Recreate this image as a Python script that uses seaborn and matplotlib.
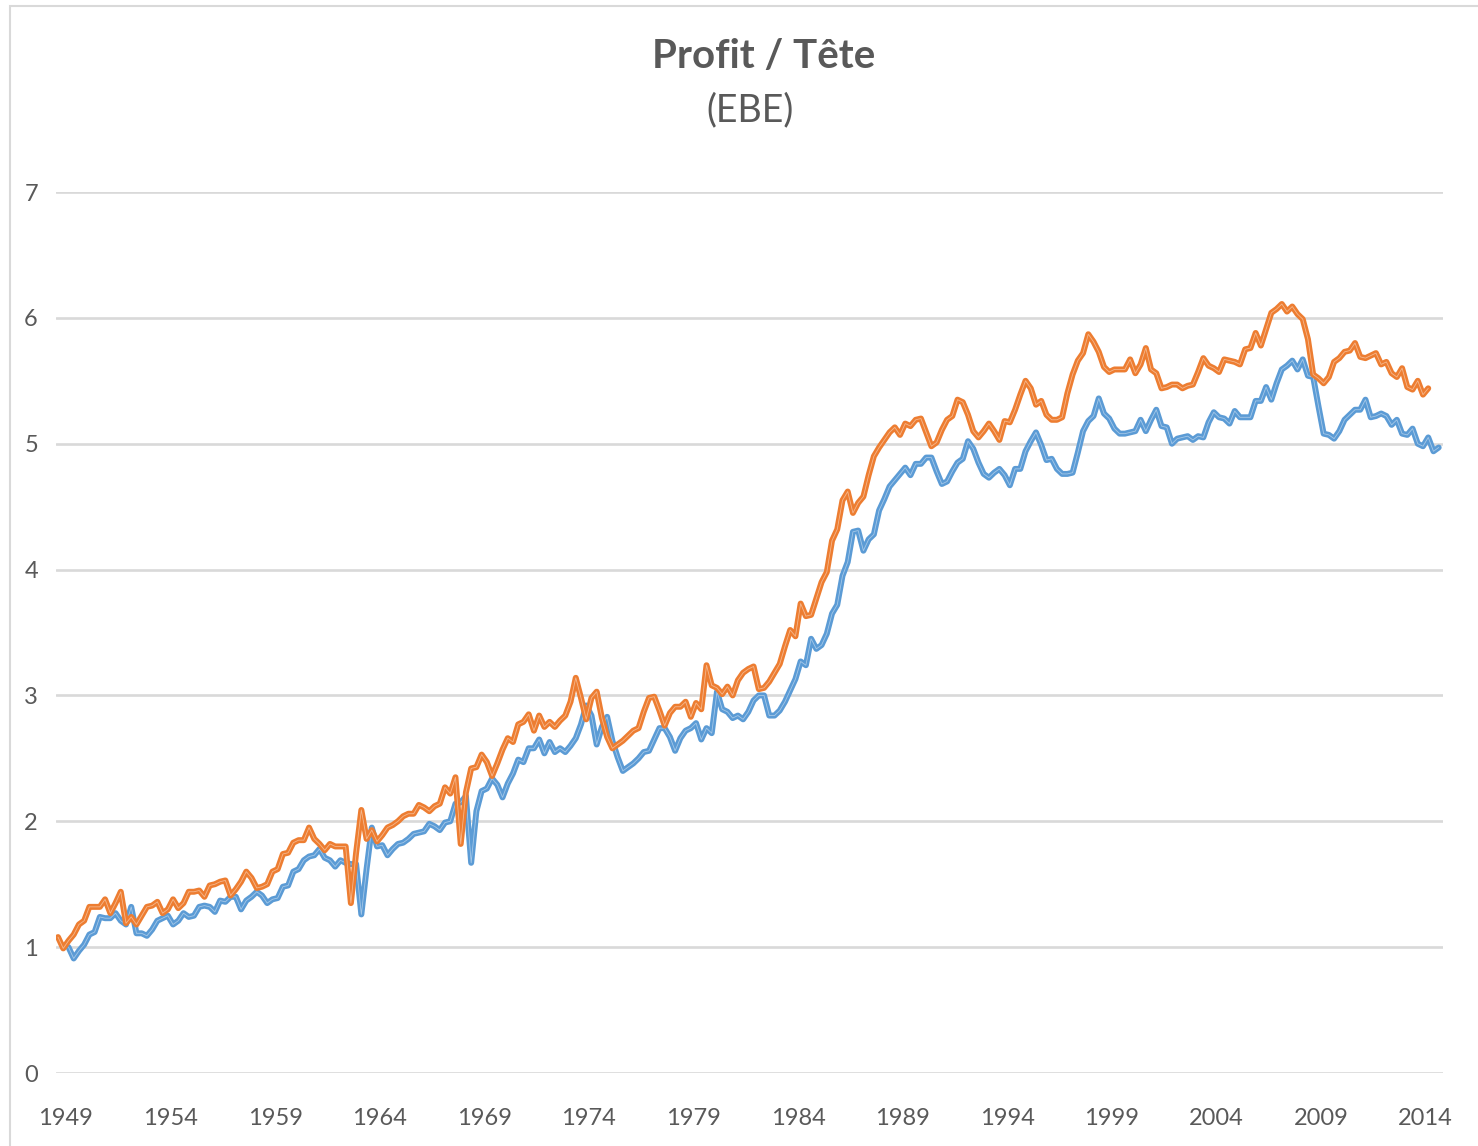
import numpy as np
import matplotlib
matplotlib.use("Agg")
import matplotlib.pyplot as plt
from matplotlib.patches import Rectangle
import seaborn as sns


# Quarterly series; the blue one starts two quarters after the orange one
ORANGE_START = 1949.0
BLUE_START = 1949.5

ORANGE_VALUES = [
    1.08, 0.99, 1.05, 1.10, 1.18, 1.21, 1.32, 1.32, 1.32, 1.38,
    1.27, 1.35, 1.44, 1.19, 1.24, 1.18, 1.25, 1.32, 1.33, 1.36,
    1.27, 1.30, 1.38, 1.31, 1.35, 1.44, 1.44, 1.45, 1.40, 1.49,
    1.50, 1.52, 1.53, 1.41, 1.46, 1.52, 1.60, 1.55, 1.47, 1.48,
    1.50, 1.60, 1.62, 1.74, 1.75, 1.83, 1.85, 1.85, 1.95, 1.86,
    1.82, 1.77, 1.82, 1.80, 1.80, 1.80, 1.35, 1.75, 2.09, 1.86,
    1.93, 1.84, 1.89, 1.95, 1.97, 2.00, 2.04, 2.06, 2.06, 2.13,
    2.11, 2.08, 2.12, 2.14, 2.27, 2.22, 2.35, 1.82, 2.23, 2.42,
    2.43, 2.53, 2.47, 2.36, 2.46, 2.57, 2.66, 2.63, 2.77, 2.79,
    2.85, 2.72, 2.84, 2.75, 2.79, 2.75, 2.80, 2.84, 2.95, 3.14,
    2.98, 2.81, 2.98, 3.03, 2.82, 2.67, 2.58, 2.61, 2.64, 2.68,
    2.72, 2.74, 2.87, 2.98, 2.99, 2.88, 2.76, 2.86, 2.91, 2.91,
    2.95, 2.83, 2.94, 2.89, 3.24, 3.08, 3.06, 3.01, 3.07, 3.00,
    3.12, 3.18, 3.21, 3.23, 3.05, 3.06, 3.11, 3.18, 3.25, 3.39,
    3.52, 3.47, 3.73, 3.63, 3.64, 3.77, 3.90, 3.98, 4.23, 4.32,
    4.55, 4.62, 4.45, 4.53, 4.58, 4.75, 4.90, 4.97, 5.03, 5.09,
    5.13, 5.07, 5.16, 5.14, 5.19, 5.20, 5.09, 4.98, 5.01, 5.11,
    5.19, 5.22, 5.35, 5.33, 5.23, 5.10, 5.05, 5.10, 5.16, 5.10,
    5.03, 5.18, 5.17, 5.27, 5.39, 5.50, 5.44, 5.31, 5.34, 5.23,
    5.19, 5.19, 5.21, 5.40, 5.55, 5.66, 5.72, 5.87, 5.81, 5.73,
    5.61, 5.57, 5.59, 5.59, 5.59, 5.67, 5.56, 5.63, 5.76, 5.59,
    5.56, 5.44, 5.45, 5.47, 5.47, 5.44, 5.46, 5.47, 5.57, 5.68,
    5.62, 5.60, 5.57, 5.67, 5.66, 5.65, 5.63, 5.75, 5.76, 5.88,
    5.78, 5.91, 6.04, 6.07, 6.11, 6.05, 6.09, 6.03, 5.99, 5.83,
    5.55, 5.52, 5.48, 5.53, 5.65, 5.68, 5.73, 5.74, 5.80, 5.69,
    5.68, 5.70, 5.72, 5.63, 5.65, 5.56, 5.53, 5.60, 5.45, 5.43,
    5.50, 5.39, 5.44,
]

BLUE_VALUES = [
    1.00, 0.91, 0.97, 1.02, 1.10, 1.12, 1.24, 1.23, 1.23, 1.27,
    1.21, 1.18, 1.32, 1.11, 1.11, 1.09, 1.14, 1.21, 1.23, 1.25,
    1.18, 1.21, 1.27, 1.24, 1.25, 1.32, 1.33, 1.32, 1.28, 1.37,
    1.36, 1.40, 1.40, 1.30, 1.37, 1.40, 1.44, 1.41, 1.35, 1.38,
    1.39, 1.48, 1.49, 1.60, 1.62, 1.69, 1.72, 1.73, 1.78, 1.71,
    1.69, 1.64, 1.69, 1.67, 1.66, 1.66, 1.26, 1.62, 1.95, 1.80,
    1.81, 1.73, 1.78, 1.82, 1.83, 1.86, 1.90, 1.91, 1.92, 1.98,
    1.96, 1.93, 1.99, 2.00, 2.14, 2.15, 2.20, 1.67, 2.08, 2.24,
    2.26, 2.34, 2.29, 2.19, 2.30, 2.38, 2.49, 2.47, 2.58, 2.58,
    2.65, 2.54, 2.63, 2.55, 2.58, 2.55, 2.60, 2.66, 2.77, 2.92,
    2.84, 2.61, 2.75, 2.83, 2.64, 2.51, 2.40, 2.43, 2.46, 2.50,
    2.55, 2.56, 2.65, 2.74, 2.74, 2.67, 2.56, 2.66, 2.72, 2.74,
    2.78, 2.65, 2.74, 2.70, 3.03, 2.89, 2.87, 2.82, 2.84, 2.81,
    2.87, 2.96, 3.00, 3.00, 2.84, 2.84, 2.88, 2.95, 3.04, 3.13,
    3.27, 3.24, 3.45, 3.37, 3.40, 3.49, 3.65, 3.72, 3.95, 4.06,
    4.30, 4.31, 4.15, 4.24, 4.28, 4.47, 4.56, 4.66, 4.71, 4.76,
    4.81, 4.75, 4.84, 4.84, 4.89, 4.89, 4.78, 4.68, 4.70, 4.78,
    4.85, 4.88, 5.02, 4.96, 4.85, 4.76, 4.73, 4.77, 4.80, 4.75,
    4.67, 4.80, 4.80, 4.94, 5.02, 5.09, 4.99, 4.87, 4.88, 4.80,
    4.76, 4.76, 4.77, 4.93, 5.10, 5.18, 5.22, 5.36, 5.24, 5.20,
    5.12, 5.08, 5.08, 5.09, 5.10, 5.19, 5.10, 5.19, 5.27, 5.14,
    5.13, 5.00, 5.04, 5.05, 5.06, 5.03, 5.06, 5.05, 5.17, 5.25,
    5.21, 5.20, 5.16, 5.26, 5.21, 5.21, 5.21, 5.34, 5.34, 5.45,
    5.35, 5.48, 5.59, 5.62, 5.66, 5.59, 5.67, 5.54, 5.53, 5.30,
    5.08, 5.07, 5.04, 5.10, 5.19, 5.23, 5.27, 5.27, 5.35, 5.21,
    5.22, 5.24, 5.22, 5.15, 5.19, 5.08, 5.07, 5.12, 5.00, 4.98,
    5.05, 4.94, 4.97,
]

YEAR_LABELS = list(range(1949, 2015, 5))
Y_TICKS = [0, 1, 2, 3, 4, 5, 6, 7]

TITLE = "Profit / Tête"
SUBTITLE = "(EBE)"

ORANGE = "#ED7D31"
BLUE = "#5B9BD5"
GREY_TEXT = "#595959"
GRID = "#D9D9D9"

W, H = 1478, 1146


def quarters(start, n):
    return start + np.arange(n) / 4.0


def draw_series(ax, x, y, color):
    sns.lineplot(x=x, y=y, color=color, linewidth=4.3, ax=ax,
                 solid_joinstyle="round", solid_capstyle="round")
    ax.plot(x, y, color="white", linewidth=0.6, alpha=0.45)


def main():
    sns.set_theme(style="white")
    plt.rcParams["font.family"] = ["Lato", "DejaVu Sans"]

    fig = plt.figure(figsize=(W / 100, H / 100), dpi=100)
    ax = fig.add_axes([56 / W, 1 - 1073 / H, (1443 - 56) / W, (1073 - 192) / H])

    ax.yaxis.grid(True, color=GRID, linewidth=1.9)
    ax.xaxis.grid(False)
    ax.set_axisbelow(True)

    draw_series(ax, quarters(BLUE_START, len(BLUE_VALUES)), BLUE_VALUES, BLUE)
    draw_series(ax, quarters(ORANGE_START, len(ORANGE_VALUES)), ORANGE_VALUES, ORANGE)

    ax.set_ylim(0, 7)
    ax.set_xlim(1948.904, 2015.206)
    ax.set_yticks(Y_TICKS)
    ax.set_yticklabels([str(v) for v in Y_TICKS])
    ax.set_xticks([y + 0.375 for y in YEAR_LABELS])
    ax.set_xticklabels([str(y) for y in YEAR_LABELS])
    ax.tick_params(axis="y", length=0, pad=13, labelsize=17, labelcolor=GREY_TEXT)
    ax.tick_params(axis="x", length=0, pad=25, labelsize=17, labelcolor=GREY_TEXT)
    ax.set_xlabel("")
    ax.set_ylabel("")
    for spine in ax.spines.values():
        spine.set_visible(False)

    fig.text(764 / W, 1 - 57 / H, TITLE, ha="center", va="center",
             fontsize=29, fontweight="bold", color=GREY_TEXT)
    fig.text(750 / W, 1 - 110 / H, SUBTITLE, ha="center", va="center",
             fontsize=27, color=GREY_TEXT)

    # light chart-area border, cut by the image edges
    fig.patches.append(Rectangle((10 / W, -0.05), 1.0, 1 - 6 / H + 0.05,
                                 transform=fig.transFigure, fill=False,
                                 edgecolor=GRID, linewidth=1.5))

    fig.savefig("out.png", dpi=100)
    plt.close(fig)


if __name__ == "__main__":
    main()
